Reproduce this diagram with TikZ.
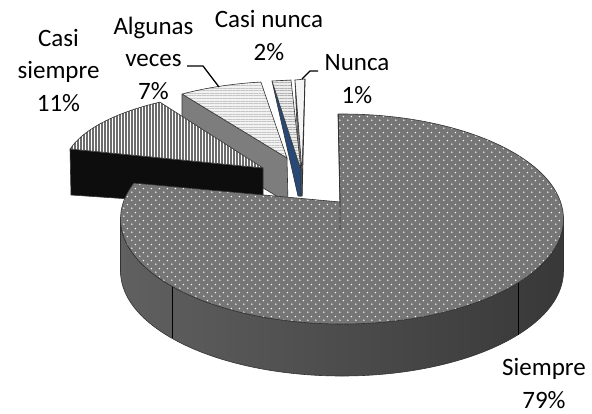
\documentclass[tikz,border=0pt]{standalone}
\usepackage{fontspec}
\setmainfont{Carlito}
\usetikzlibrary{calc,patterns.meta}
\definecolor{topgray}{RGB}{118,118,118}
\definecolor{sideL}{RGB}{96,96,96}
\definecolor{sideM}{RGB}{80,80,80}
\definecolor{sideR}{RGB}{56,56,56}
\definecolor{edge}{RGB}{50,50,50}
\definecolor{slateblue}{RGB}{40,72,118}
\definecolor{greyface}{RGB}{125,125,125}
\pgfdeclarepatternformonly{sdots}{\pgfqpoint{0pt}{0pt}}{\pgfqpoint{7.6pt}{7.6pt}}{\pgfqpoint{7.6pt}{7.6pt}}{%
  \pgfpathcircle{\pgfqpoint{1.9pt}{1.9pt}}{0.85pt}%
  \pgfpathcircle{\pgfqpoint{5.7pt}{5.7pt}}{0.85pt}%
  \pgfusepath{fill}}
\tikzset{
  outline/.style={draw=edge, line width=0.6pt, line join=round},
  siempretop/.style={outline, preaction={fill=topgray}, pattern=sdots, pattern color=white!92!gray},
  siempreside/.style={outline, left color=sideL, middle color=sideM, right color=sideR},
  seam/.style={draw=black, line width=0.6pt},
  vstripes/.style={outline, preaction={fill=white}, pattern={Lines[angle=90,distance=3pt,line width=1.1pt]}, pattern color=gray!85!black},
  hstripes/.style={outline, preaction={fill=gray!10}, pattern={Lines[angle=0,distance=2.6pt,line width=0.6pt]}, pattern color=gray!45},
  hstripesdark/.style={outline, preaction={fill=gray!15}, pattern={Lines[angle=0,distance=2.6pt,line width=0.7pt]}, pattern color=gray!60},
  lighttop/.style={outline, fill=gray!8},
  blackface/.style={outline, fill=black!95},
  greyside/.style={outline, fill=greyface},
  blueface/.style={outline, fill=slateblue},
  label/.style={font=\fontsize{25}{32.5}\selectfont, align=center, anchor=base, inner sep=0pt},
  leader/.style={draw=black, line width=1.3pt}
}
\begin{document}
\begin{tikzpicture}[x=1pt,y=-1pt]
\useasboundingbox (0,0) rectangle (592,413);
% ---------- Nunca (1%) ----------
\path[greyside] (295,80) -- (302,172) -- (302,196) -- (300,196) -- cycle;
\path[lighttop] (295,80) -- (305,79) -- (302,172) -- cycle;
\draw[edge, line width=0.9pt] (305,79) -- (302,196);
% ---------- Casi nunca (2%) ----------
\path[blueface] (272,81) -- (301,170) -- (301,196) -- (298,196) -- cycle;
\path[hstripesdark] (272,81) -- (291,80) -- (301,170) -- cycle;
% ---------- Algunas veces (7%) ----------
\coordinate (A2) at (287,158);
\path[greyside] (182,94) -- (A2) -- (288,203) -- (182,139) -- cycle;
\path[hstripes] (A2) -- ++(236.5:190 and 76.7) arc[start angle=236.5, end angle=262.1, x radius=190, y radius=76.7] -- cycle;
% ---------- Casi siempre (11%) ----------
\coordinate (A1) at (263,168);
\path[blackface] (70,149) -- (A1) -- (263,208) -- (71,195) -- cycle;
\path[vstripes] (A1) -- ++(194.3:199 and 77) arc[start angle=194.3, end angle=238.8, x radius=199, y radius=77] -- cycle;
% ---------- Siempre (79%) ----------
\coordinate (C) at (342,219);
\coordinate (Cb) at (342,271);
\coordinate (S) at (340,202);
\path[siempreside] ($(C)+(0:221.5 and 105)$) arc[start angle=0, end angle=180, x radius=221.5, y radius=105]
   -- ($(Cb)+(180:221.5 and 105)$) arc[start angle=180, end angle=0, x radius=221.5, y radius=105] -- cycle;
\draw[seam] ($(C)+(140:221.5 and 105)$) -- ($(Cb)+(140:221.5 and 105)$);
\draw[seam] ($(C)+(37.4:221.5 and 105)$) -- ($(Cb)+(37.4:221.5 and 105)$);
\path[siempretop] (S) -- ($(C)+(-91:221.5 and 105)$) arc[start angle=-91, end angle=200, x radius=221.5, y radius=105] -- cycle;
\draw[edge, line width=0.9pt] ($(C)+(-91:221.5 and 105)$) -- (S) -- (340,230);
% ---------- labels (anchor = baseline of the last line) ----------
\node[label] (lcs) at (58.5,111) {Casi\\siempre\\11\%};
\node[label] (lav) at (153.5,99) {Algunas\\veces\\7\%};
\node[label] (lcn) at (269,60) {Casi nunca\\2\%};
\node[label] (lnu) at (357,103) {Nunca\\1\%};
\node[label] (lsi) at (544,408) {Siempre\\79\%};
% ---------- leaders ----------
\coordinate (av1) at (187,66);
\coordinate (av2) at (203,66);
\coordinate (av3) at (219,87);
\draw[leader] (av1) -- (av2) -- (av3);
\coordinate (nu1) at (318,71);
\coordinate (nu2) at (310,71);
\coordinate (nu3) at (302,79);
\draw[leader] (nu1) -- (nu2) -- (nu3);
\end{tikzpicture}
\end{document}
